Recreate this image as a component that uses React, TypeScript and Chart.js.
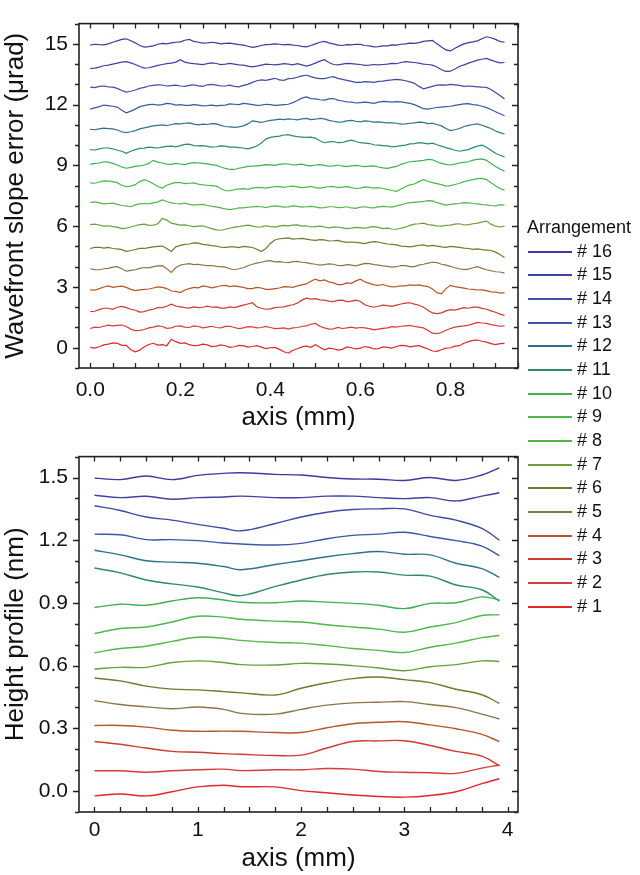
import React, { useEffect, useRef } from 'react';
import { Chart, registerables } from 'chart.js';
Chart.register(...registerables);

const FONT = '"Liberation Sans", Arial, sans-serif';

// ---------- top panel: wavefront slope error (µrad) ----------
const TOP_X = [0,0.01,0.02,0.03,0.04,0.05,0.06,0.07,0.08,0.09,0.1,0.11,0.12,0.13,0.14,0.15,0.16,0.17,0.18,0.19,0.2,0.21,0.22,0.23,0.24,0.25,0.26,0.27,0.28,0.29,0.3,0.31,0.32,0.33,0.34,0.35,0.36,0.37,0.38,0.39,0.4,0.41,0.42,0.43,0.44,0.45,0.46,0.47,0.48,0.49,0.5,0.51,0.52,0.53,0.54,0.55,0.56,0.57,0.58,0.59,0.6,0.61,0.62,0.63,0.64,0.65,0.66,0.67,0.68,0.69,0.7,0.71,0.72,0.73,0.74,0.75,0.76,0.77,0.78,0.79,0.8,0.81,0.82,0.83,0.84,0.85,0.86,0.87,0.88,0.89,0.9,0.91,0.92];
const TOP_1 = [0.02,-0.02,0.05,0.14,0.18,0.24,0.22,0.12,0.12,-0.1,-0.2,-0.12,0.05,0.16,0.22,0.13,0.15,0.1,0.42,0.3,0.22,0.24,0.15,0.1,0.12,0.18,0.14,0.06,0.08,0.14,0.1,0.02,0.05,0.12,0.1,0.03,0.06,0.1,0.03,-0.04,0.0,0.02,-0.08,-0.2,-0.27,-0.12,-0.05,0.04,0.08,0.02,0.15,0.02,-0.1,-0.02,-0.05,-0.12,-0.08,0.04,0.0,-0.06,-0.02,0.06,0.02,-0.06,-0.05,0.04,0.02,-0.02,0.06,0.12,0.1,0.04,0.08,0.1,0.02,-0.06,-0.16,-0.18,-0.1,-0.02,0.0,0.08,0.1,0.22,0.3,0.36,0.38,0.32,0.28,0.2,0.15,0.2,0.22];
const TOP_2 = [0.95,1.02,1.0,1.06,1.12,1.08,1.1,1.12,1.05,0.92,0.85,0.86,0.9,0.98,1.02,1.08,1.05,0.96,0.98,1.06,1.08,1.02,1.0,1.08,1.05,0.98,1.02,1.06,1.0,0.98,1.05,1.06,1.0,0.94,0.98,1.04,1.03,0.98,1.0,1.05,1.0,0.94,0.96,0.98,0.92,0.98,1.0,1.05,1.08,1.16,1.2,1.06,0.98,0.92,0.93,1.0,0.95,0.98,1.02,0.97,1.0,0.98,0.94,0.88,0.92,0.96,0.98,1.04,1.02,1.06,1.08,1.1,1.05,1.02,0.98,0.85,0.72,0.7,0.75,0.86,0.95,1.02,1.05,1.08,1.12,1.18,1.25,1.22,1.2,1.14,1.1,1.06,1.08];
const TOP_3 = [1.78,1.8,1.88,1.95,1.95,1.9,2.0,2.04,1.98,1.9,1.85,1.76,1.78,1.86,1.9,1.98,1.98,2.05,2.15,2.06,2.02,1.98,1.96,2.02,1.98,2.0,2.05,2.0,2.02,1.96,1.96,2.02,1.98,2.04,2.1,2.16,2.22,2.02,1.95,1.9,1.92,1.98,2.0,2.02,2.08,2.12,2.2,2.35,2.45,2.4,2.42,2.36,2.35,2.3,2.28,2.34,2.35,2.28,2.3,2.35,2.28,2.12,2.05,2.0,2.05,2.1,2.08,2.04,2.1,2.16,2.2,2.22,2.15,2.1,2.0,1.85,1.72,1.68,1.72,1.82,1.88,1.86,1.92,1.98,1.95,2.0,2.0,1.94,1.9,1.82,1.75,1.66,1.6];
const TOP_4 = [2.86,2.84,2.92,3.0,3.05,2.98,3.02,3.04,2.98,2.88,2.82,2.86,2.88,2.9,2.95,3.0,2.98,2.92,2.8,2.78,2.72,2.85,2.92,2.98,2.96,3.05,3.02,2.96,3.0,3.06,3.08,3.02,3.05,3.02,2.98,2.92,2.92,2.98,2.95,2.88,2.88,2.92,2.95,3.02,3.0,2.98,3.05,3.1,3.15,3.28,3.38,3.3,3.35,3.25,3.2,3.12,3.12,3.2,3.18,3.3,3.38,3.25,3.18,3.1,3.08,3.12,3.05,3.0,3.02,3.06,3.05,3.1,3.08,3.1,3.05,3.02,2.9,2.72,2.66,2.92,3.08,3.02,2.98,2.94,2.9,2.88,2.85,2.86,2.82,2.76,2.75,2.7,2.72];
const TOP_5 = [3.9,3.86,3.85,3.9,3.92,3.98,4.0,3.9,3.78,3.82,3.85,3.92,3.96,3.94,4.0,4.04,4.05,3.9,3.72,3.95,4.08,4.12,4.15,4.1,4.12,4.08,4.05,4.06,4.02,4.0,3.98,3.9,3.85,3.9,3.95,4.05,4.12,4.18,4.22,4.28,4.3,4.24,4.25,4.22,4.2,4.25,4.26,4.22,4.2,4.15,4.12,4.08,4.1,4.14,4.12,4.06,4.05,4.1,4.08,4.04,4.1,4.16,4.15,4.1,4.08,4.04,4.02,3.98,4.0,4.06,4.05,4.0,4.0,4.08,4.12,4.18,4.22,4.2,4.12,4.08,4.02,3.95,3.9,3.86,3.88,3.95,4.0,3.92,3.85,3.8,3.75,3.74,3.68];
const TOP_6 = [4.9,4.95,4.96,4.92,4.95,4.9,4.88,4.84,4.76,4.8,4.85,4.9,4.9,4.94,4.98,5.0,5.02,4.9,4.75,4.98,5.05,5.1,5.12,5.18,5.16,5.1,5.08,5.04,5.02,4.96,4.95,4.98,4.98,4.94,5.0,4.98,4.95,4.86,4.75,4.9,5.15,5.32,5.38,5.4,5.42,5.36,5.38,5.4,5.36,5.32,5.3,5.34,5.32,5.27,5.28,5.3,5.24,5.2,5.22,5.2,5.18,5.14,5.2,5.24,5.22,5.16,5.12,5.1,5.08,5.02,5.0,4.98,5.02,5.06,5.08,5.02,5.05,5.02,4.98,4.95,5.0,4.98,4.95,4.92,4.9,4.86,4.88,4.84,4.82,4.8,4.72,4.6,4.45];
const TOP_7 = [6.08,6.1,6.06,6.0,6.02,5.98,5.95,5.88,5.9,5.96,6.02,6.08,6.1,6.04,6.05,6.12,6.38,6.3,6.15,6.1,6.05,6.06,6.02,5.98,6.0,6.02,5.95,5.88,5.82,5.8,5.85,5.9,5.95,5.98,6.02,6.05,6.0,5.96,5.97,6.02,5.98,5.95,6.0,6.04,6.02,6.05,6.06,6.0,6.02,5.96,5.98,6.0,5.96,5.92,5.95,5.96,5.92,5.88,5.9,5.94,5.92,5.9,5.95,5.98,5.94,5.88,5.9,5.86,5.85,5.9,5.95,6.04,6.1,6.12,6.15,6.08,6.05,6.02,6.0,6.04,6.05,6.1,6.12,6.06,6.08,6.12,6.15,6.2,6.25,6.1,6.0,5.96,6.0];
const TOP_8 = [7.18,7.2,7.15,7.1,7.12,7.14,7.08,7.02,7.0,6.96,7.05,7.1,7.12,7.1,7.15,7.2,7.3,7.22,7.15,7.12,7.1,7.14,7.08,7.04,7.06,7.08,7.02,6.98,6.95,6.9,6.85,6.82,6.85,6.9,6.9,6.94,6.95,6.98,6.96,6.92,6.97,7.0,6.98,6.94,6.95,7.0,6.98,6.94,6.96,6.98,6.95,6.9,6.92,6.96,6.96,6.92,6.93,6.96,6.9,6.88,6.94,6.96,6.92,6.9,6.95,6.98,6.96,6.94,7.0,7.05,7.12,7.16,7.18,7.2,7.22,7.26,7.25,7.16,7.1,7.04,7.08,7.1,7.12,7.16,7.15,7.12,7.1,7.06,7.05,7.02,7.0,7.06,7.04];
const TOP_9 = [8.14,8.12,8.18,8.24,8.22,8.2,8.15,8.02,7.95,7.98,8.05,8.2,8.3,8.22,8.1,7.96,7.88,8.02,8.1,8.16,8.15,8.1,8.12,8.14,8.08,8.04,8.02,8.0,7.98,7.85,7.75,7.76,7.8,7.84,7.85,7.82,7.88,7.92,7.9,7.88,7.92,7.96,7.95,7.92,7.96,7.98,7.94,7.9,7.93,7.96,7.9,7.88,7.92,7.96,7.95,7.9,7.93,7.95,7.9,7.86,7.88,7.94,7.92,7.88,7.9,7.86,7.82,7.76,7.72,7.84,7.95,8.04,8.08,8.2,8.3,8.22,8.15,8.1,8.05,7.98,8.0,8.06,8.12,8.2,8.25,8.3,8.35,8.36,8.3,8.15,8.0,7.86,7.78];
const TOP_10 = [9.05,9.1,9.12,9.18,9.16,9.1,9.02,8.92,8.86,8.9,8.95,8.98,9.02,9.1,9.25,9.16,9.12,9.06,9.05,9.1,9.07,9.04,9.1,9.14,9.12,9.1,9.08,9.04,9.0,8.92,8.85,8.8,8.8,8.86,8.9,8.95,8.96,8.98,9.0,9.04,9.03,9.0,9.05,9.08,9.07,9.02,9.04,9.06,9.0,8.98,9.02,9.04,9.0,8.96,8.98,9.02,8.96,8.94,8.98,9.0,8.97,8.94,8.96,8.98,8.92,8.88,8.85,8.9,8.95,9.05,9.12,9.18,9.2,9.22,9.25,9.3,9.28,9.18,9.1,9.05,9.02,9.06,9.12,9.15,9.18,9.26,9.3,9.32,9.25,9.1,8.95,8.82,8.72];
const TOP_11 = [9.78,9.76,9.82,9.86,9.86,9.82,9.75,9.7,9.6,9.7,9.78,9.84,9.85,9.9,9.88,9.86,9.9,9.94,9.95,9.92,9.98,10.04,10.05,9.98,9.96,9.98,9.94,9.9,9.92,9.96,9.95,9.9,9.9,9.88,9.86,9.82,9.88,9.96,10.1,10.3,10.38,10.42,10.45,10.5,10.52,10.46,10.42,10.4,10.38,10.4,10.35,10.22,10.12,10.16,10.18,10.12,10.13,10.2,10.25,10.18,10.12,10.1,10.08,10.02,10.0,9.98,9.96,9.92,9.94,9.98,10.0,10.06,10.08,10.12,10.1,10.06,10.1,10.02,9.95,9.88,9.82,9.75,9.7,9.74,9.78,9.88,9.95,10.0,9.9,9.75,9.6,9.5,9.42];
const TOP_12 = [10.78,10.76,10.8,10.84,10.82,10.8,10.75,10.66,10.62,10.66,10.72,10.8,10.85,10.9,10.95,10.98,11.0,10.96,11.02,11.06,11.05,11.08,11.1,11.04,11.0,11.04,11.02,11.06,11.05,10.98,10.92,10.9,10.88,10.9,10.95,11.05,11.2,11.16,11.12,11.18,11.22,11.25,11.28,11.26,11.3,11.28,11.25,11.3,11.32,11.26,11.28,11.32,11.3,11.22,11.18,11.14,11.15,11.2,11.22,11.18,11.15,11.2,11.18,11.14,11.15,11.12,11.1,11.1,11.08,11.04,11.05,11.08,11.1,11.14,11.12,11.06,11.08,11.02,10.95,10.82,10.72,10.76,10.82,10.92,10.98,11.02,11.05,10.98,10.9,10.82,10.7,10.62,10.55];
const TOP_13 = [11.78,11.84,11.9,11.98,11.95,11.92,11.88,11.72,11.6,11.68,11.78,11.9,11.95,12.0,12.02,11.98,12.0,12.06,12.04,11.98,12.0,11.96,11.96,12.0,11.98,11.94,11.95,11.98,11.94,11.96,11.98,12.04,12.02,12.0,12.06,12.04,12.0,11.96,11.98,12.02,12.0,11.96,11.98,12.0,12.02,12.1,12.2,12.32,12.38,12.3,12.28,12.24,12.22,12.28,12.3,12.22,12.18,12.14,12.12,12.08,12.1,12.12,12.1,12.06,12.12,12.16,12.15,12.12,12.15,12.14,12.1,12.06,12.0,11.9,11.8,11.78,11.82,11.86,11.88,11.9,11.92,11.96,12.0,12.04,12.05,12.0,11.98,11.92,11.85,11.76,11.65,11.55,11.45];
const TOP_14 = [12.86,12.84,12.9,12.92,12.88,12.86,12.8,12.7,12.62,12.66,12.72,12.8,12.85,12.92,12.95,12.98,12.97,12.92,12.94,12.96,12.92,12.9,12.95,12.98,12.93,12.9,12.98,13.0,12.96,12.92,12.92,12.96,12.9,12.88,12.95,13.0,13.1,13.18,13.22,13.2,13.25,13.3,13.22,13.2,13.28,13.3,13.35,13.42,13.45,13.38,13.32,13.28,13.28,13.34,13.38,13.3,13.25,13.2,13.15,13.1,13.1,13.14,13.12,13.1,13.15,13.16,13.2,13.22,13.25,13.22,13.18,13.12,13.05,12.9,12.78,12.84,12.9,12.96,12.98,12.96,13.0,12.98,12.95,12.9,12.92,12.9,12.88,12.86,12.85,12.75,12.6,12.45,12.28];
const TOP_15 = [13.78,13.8,13.85,13.92,13.95,14.0,14.05,14.1,14.12,14.06,13.98,13.88,13.8,13.82,13.88,13.94,13.98,14.02,14.05,14.1,14.22,14.1,14.05,14.02,14.0,13.98,14.02,14.06,14.03,13.98,14.0,14.04,14.0,13.96,13.95,13.9,13.86,13.9,13.95,14.0,13.98,13.96,13.99,14.02,14.0,13.96,14.02,13.96,13.9,13.96,14.05,14.15,14.22,14.08,13.98,13.96,14.0,14.04,14.02,14.0,13.98,13.94,13.95,13.98,13.96,13.98,14.0,14.04,14.02,14.08,14.12,14.1,14.08,14.05,14.0,13.98,13.95,13.86,13.72,13.64,13.65,13.76,13.88,13.96,14.05,14.12,14.2,14.24,14.28,14.2,14.12,14.06,14.08];
const TOP_16 = [14.94,14.98,14.96,14.95,15.0,15.08,15.15,15.22,15.25,15.15,15.05,14.92,14.84,14.86,14.9,14.98,15.02,15.0,15.05,15.08,15.1,15.18,15.22,15.12,15.08,15.04,15.05,15.08,15.05,15.0,15.02,15.04,15.0,14.96,14.94,14.88,14.83,14.86,14.92,14.96,14.97,15.0,14.98,14.95,14.97,14.94,14.92,14.88,14.85,14.92,15.0,15.08,15.12,15.05,15.0,14.94,14.92,14.96,14.95,14.98,14.97,14.92,14.9,14.85,14.86,14.9,14.9,14.95,14.94,14.98,15.0,15.04,15.02,15.06,15.12,15.15,15.17,15.0,14.85,14.7,14.65,14.78,14.9,15.0,15.06,15.1,15.15,15.25,15.35,15.3,15.22,15.12,15.08];
const TOP_SERIES = [TOP_1,TOP_2,TOP_3,TOP_4,TOP_5,TOP_6,TOP_7,TOP_8,TOP_9,TOP_10,TOP_11,TOP_12,TOP_13,TOP_14,TOP_15,TOP_16];

// ---------- bottom panel: height profile (nm) ----------
const BOT_X = [0,0.25,0.5,0.75,1,1.25,1.42,1.75,2,2.25,2.5,2.75,3,3.25,3.5,3.75,3.92];
const BOT_1 = [-0.023,-0.014,-0.023,-0.003,0.02,0.028,0.021,0.02,0.002,-0.008,-0.019,-0.026,-0.029,-0.021,-0.003,0.036,0.059];
const BOT_2 = [0.097,0.097,0.09,0.097,0.102,0.105,0.098,0.102,0.102,0.108,0.105,0.094,0.09,0.088,0.085,0.11,0.125];
const BOT_3 = [0.237,0.224,0.206,0.19,0.186,0.179,0.176,0.17,0.172,0.206,0.237,0.24,0.241,0.218,0.19,0.167,0.121];
const BOT_4 = [0.314,0.314,0.306,0.291,0.286,0.287,0.286,0.28,0.28,0.303,0.322,0.329,0.332,0.317,0.298,0.271,0.237];
const BOT_5 = [0.433,0.414,0.403,0.394,0.402,0.391,0.372,0.368,0.391,0.411,0.422,0.425,0.428,0.414,0.399,0.368,0.345];
const BOT_6 = [0.541,0.527,0.502,0.488,0.484,0.476,0.47,0.46,0.492,0.518,0.538,0.546,0.533,0.519,0.487,0.461,0.419];
const BOT_7 = [0.584,0.592,0.592,0.615,0.623,0.615,0.605,0.603,0.611,0.608,0.6,0.589,0.576,0.595,0.605,0.623,0.62];
const BOT_8 = [0.662,0.682,0.693,0.716,0.736,0.731,0.721,0.711,0.708,0.696,0.682,0.673,0.663,0.688,0.708,0.734,0.744];
const BOT_9 = [0.754,0.778,0.785,0.809,0.836,0.832,0.822,0.813,0.809,0.796,0.785,0.775,0.76,0.785,0.806,0.84,0.843];
const BOT_10 = [0.878,0.894,0.889,0.909,0.925,0.914,0.903,0.901,0.909,0.904,0.898,0.889,0.873,0.898,0.901,0.929,0.914];
const BOT_11 = [1.067,1.044,1.01,0.991,0.976,0.948,0.935,0.979,1.01,1.036,1.048,1.048,1.033,1.028,0.986,0.963,0.909];
const BOT_12 = [1.152,1.13,1.102,1.095,1.09,1.074,1.059,1.084,1.102,1.121,1.136,1.146,1.133,1.13,1.09,1.064,1.022];
const BOT_13 = [1.229,1.226,1.203,1.203,1.198,1.187,1.182,1.177,1.185,1.207,1.223,1.229,1.238,1.218,1.198,1.172,1.126];
const BOT_14 = [1.365,1.342,1.311,1.296,1.276,1.257,1.245,1.28,1.311,1.334,1.347,1.35,1.35,1.319,1.296,1.257,1.2];
const BOT_15 = [1.415,1.404,1.41,1.396,1.404,1.407,1.411,1.404,1.404,1.411,1.411,1.404,1.399,1.404,1.388,1.411,1.427];
const BOT_16 = [1.497,1.49,1.507,1.49,1.51,1.52,1.523,1.515,1.512,1.5,1.493,1.492,1.486,1.5,1.486,1.512,1.546];
const BOT_SERIES = [BOT_1,BOT_2,BOT_3,BOT_4,BOT_5,BOT_6,BOT_7,BOT_8,BOT_9,BOT_10,BOT_11,BOT_12,BOT_13,BOT_14,BOT_15,BOT_16];

const LABELS = ['# 1','# 2','# 3','# 4','# 5','# 6','# 7','# 8','# 9','# 10','# 11','# 12','# 13','# 14','# 15','# 16'];
const COLORS = ['#e0282a','#d83a3a','#cc3b2e','#b5562a','#8c7545','#6f7a2e','#6a9e3e','#55b548','#4cb84c','#3fb052','#2f8a6a','#2e7385','#3c58a5','#3e4ca3','#3e42a0','#3b3b9b'];

const TOP_X_TICKS = [0, 0.2, 0.4, 0.6, 0.8];
const TOP_Y_TICKS = [0, 3, 6, 9, 12, 15];
const BOT_X_TICKS = [0, 1, 2, 3, 4];
const BOT_Y_TICKS = [0, 0.3, 0.6, 0.9, 1.2, 1.5];

const framePlugin = {
  id: 'frame',
  afterDraw(chart: any, _args: any, opts: any) {
    const { ctx, chartArea: a, scales } = chart;
    const xs = scales.x, ys = scales.y;
    ctx.save();
    ctx.strokeStyle = '#222';
    ctx.lineWidth = 1.6;
    ctx.strokeRect(a.left, a.top, a.right - a.left, a.bottom - a.top);
    ctx.lineWidth = 1.3;
    ctx.beginPath();
    const xs0 = Math.ceil(xs.min / opts.xMinor - 1e-6);
    for (let i = xs0; i * opts.xMinor <= xs.max + 1e-9; i++) {
      const v = i * opts.xMinor;
      const px = Math.round(xs.getPixelForValue(v)) + 0.5;
      const len = 5;
      ctx.moveTo(px, a.bottom); ctx.lineTo(px, a.bottom - len);
      ctx.moveTo(px, a.top); ctx.lineTo(px, a.top + len);
    }
    const ys0 = Math.ceil(ys.min / opts.yMinor - 1e-6);
    for (let i = ys0; i * opts.yMinor <= ys.max + 1e-9; i++) {
      const v = i * opts.yMinor;
      const py = Math.round(ys.getPixelForValue(v)) + 0.5;
      const major = Math.abs(v / opts.yMajor - Math.round(v / opts.yMajor)) < 1e-6;
      const len = major ? 6 : 4;
      ctx.moveTo(a.left, py); ctx.lineTo(a.left - len, py);
      ctx.moveTo(a.right, py); ctx.lineTo(a.right - len, py);
    }
    ctx.stroke();
    ctx.restore();
  },
};

function datasets(xs: number[], series: number[][], width: number, tension: number) {
  return series.map((ys, i) => ({
    label: LABELS[i],
    data: xs.map((x, j) => ({ x, y: ys[j] })),
    borderColor: COLORS[i],
    borderWidth: width,
    pointRadius: 0,
    tension,
    fill: false,
  }));
}

function axis(min: number, max: number, ticks: number[], fmt: (v: number) => string, title: string, fit: (s: any) => void, pad: number, titlePad: any) {
  return {
    type: 'linear' as const,
    min, max,
    afterBuildTicks: (s: any) => { s.ticks = ticks.map((v) => ({ value: v })); },
    afterFit: fit,
    grid: { display: false, drawTicks: false },
    border: { display: false },
    ticks: { padding: pad, color: '#111', autoSkip: false, maxRotation: 0, font: { family: FONT, size: 21 }, callback: (v: any) => fmt(Number(v)) },
    title: { display: true, text: title, color: '#111', font: { family: FONT, size: 26 }, padding: titlePad },
  };
}

function PanelChart(props: { cfg: any; width: number; height: number; top: number }) {
  const ref = useRef<HTMLCanvasElement | null>(null);
  useEffect(() => {
    const chart = new Chart(ref.current as HTMLCanvasElement, props.cfg);
    return () => chart.destroy();
  }, []);
  return (
    <canvas ref={ref} width={props.width} height={props.height}
      style={{ position: 'absolute', left: 0, top: props.top, width: props.width, height: props.height }} />
  );
}

const topCfg = {
  type: 'line',
  data: { datasets: datasets(TOP_X, TOP_SERIES, 1.2, 0) },
  plugins: [framePlugin],
  options: {
    animation: false, responsive: false, devicePixelRatio: 1,
    layout: { padding: { left: 0, right: 122, top: 1, bottom: 0 } },
    plugins: { legend: { display: false }, tooltip: { enabled: false }, frame: { xMinor: 0.05, yMinor: 1, yMajor: 3 } },
    scales: {
      x: axis(-0.025, 0.95, TOP_X_TICKS, (v) => v.toFixed(1), 'axis (mm)', (s: any) => { s.height = 65; }, 10, { top: 0, bottom: 0 }),
      y: axis(-1, 16, TOP_Y_TICKS, (v) => String(v), 'Wavefront slope error (\u03bcrad)', (s: any) => { s.width = 79; }, 11, { top: 0, bottom: 0 }),
    },
  },
};

const botCfg = {
  type: 'line',
  data: { datasets: datasets(BOT_X, BOT_SERIES, 1.4, 0.4) },
  plugins: [framePlugin],
  options: {
    animation: false, responsive: false, devicePixelRatio: 1,
    layout: { padding: { left: 0, right: 122, top: 12, bottom: 0 } },
    plugins: { legend: { display: false }, tooltip: { enabled: false }, frame: { xMinor: 0.25, yMinor: 0.1, yMajor: 0.3 } },
    scales: {
      x: axis(-0.15, 4.1, BOT_X_TICKS, (v) => String(v), 'axis (mm)', (s: any) => { s.height = 63; }, 6, { top: 0, bottom: 1 }),
      y: axis(-0.1, 1.6, BOT_Y_TICKS, (v) => v.toFixed(1), 'Height profile (nm)', (s: any) => { s.width = 79; }, 11, { top: 0, bottom: 0 }),
    },
  },
};

export default function App() {
  const rows = LABELS.map((l, i) => ({ l, c: COLORS[i] })).reverse();
  return (
    <div style={{ position: 'absolute', left: 0, top: 0, width: 640, height: 875, background: '#fff', overflow: 'hidden' }}>
      <PanelChart cfg={topCfg} width={640} height={433} top={0} />
      <PanelChart cfg={botCfg} width={640} height={442} top={433} />
      <div style={{ position: 'absolute', left: 527, top: 217, height: 22, lineHeight: '22px', font: `18px ${FONT}`, color: '#111', whiteSpace: 'nowrap' }}>Arrangement</div>
      {rows.map((r, k) => {
        const y = Math.round(251.7 + k * 23.67);
        return (
          <React.Fragment key={r.l}>
            <div style={{ position: 'absolute', left: 528, top: y - 1, width: 44, height: 2, background: r.c }} />
            <div style={{ position: 'absolute', left: 577, top: y - 11, height: 22, lineHeight: '22px', font: `18px ${FONT}`, color: '#111', whiteSpace: 'nowrap' }}>{r.l}</div>
          </React.Fragment>
        );
      })}
    </div>
  );
}
